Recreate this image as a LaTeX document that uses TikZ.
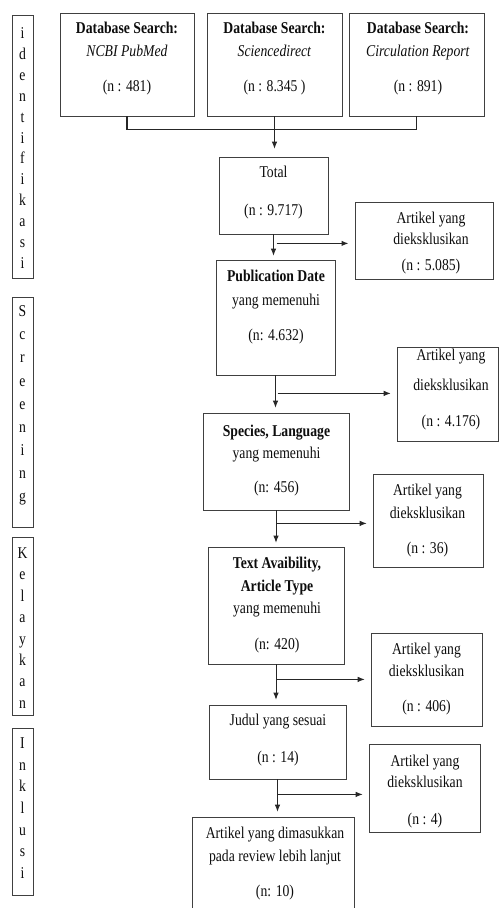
\documentclass[tikz,border=0pt]{standalone}
\usepackage{fontspec}
\setmainfont[FakeStretch=0.83]{Liberation Serif}
\usetikzlibrary{arrows.meta,calc}
\newcommand\ftx{\fontsize{16.5}{19}\selectfont}
\tikzset{
  box/.style={draw=black!75, line width=0.8pt, rectangle, inner sep=0pt},
  txt/.style={align=center, inner sep=0pt, font=\ftx, text=black!95},
  col/.style={align=center, inner sep=0pt, text=black!95},
  arr/.style={draw=black!85, line width=0.8pt, -{Latex[length=7pt,width=5.5pt]}},
  sidearr/.style={arr, shorten >=6pt},
  brk/.style={draw=black!85, line width=1.6pt}
}
\begin{document}
\begin{tikzpicture}[x=1pt,y=-1pt]
\clip (0,0) rectangle (499,908);
\fill[white] (0,0) rectangle (499,908);

% left stage boxes
\node[box, minimum width=21pt, minimum height=263pt] (L1) at (22.5,146.5) {};
\node[box, minimum width=21pt, minimum height=230pt] (L2) at (22.5,412) {};
\node[box, minimum width=21pt, minimum height=178pt] (L3) at (22.5,626) {};
\node[box, minimum width=21pt, minimum height=167pt] (L4) at (22.5,811.5) {};
\node[col, font={\fontsize{16.5}{20.9}\selectfont}] (tL1) at (22.5,148) {i\\d\\e\\n\\t\\i\\f\\i\\k\\a\\s\\i};
\node[col, font={\fontsize{16.5}{23.1}\selectfont}] (tL2) at (22.5,405.5) {S\\c\\r\\e\\e\\n\\i\\n\\g};
\node[col, font={\fontsize{16.5}{21.4}\selectfont}] (tL3) at (22.5,628) {K\\e\\l\\a\\y\\k\\a\\n};
\node[col, font={\fontsize{16.5}{21.7}\selectfont}] (tL4) at (22.5,808) {I\\n\\k\\l\\u\\s\\i};

% top boxes
\node[box, minimum width=134pt, minimum height=103pt] (A) at (127,64.5) {};
\node[box, minimum width=135pt, minimum height=103pt] (B) at (274.5,64.5) {};
\node[box, minimum width=135pt, minimum height=103pt] (C) at (416.5,64.5) {};
\node[txt] (tA) at (127,59) {\textbf{Database Search:}\\[4pt]\textit{NCBI PubMed}\\[16pt](n : 481)};
\node[txt] (tB) at (274.5,59) {\textbf{Database Search:}\\[4pt]\textit{Sciencedirect}\\[16pt](n : 8.345 )};
\node[txt] (tC) at (418,59) {\textbf{Database Search:}\\[4pt]\textit{Circulation Report}\\[16pt](n : 891)};

% main column
\node[box, minimum width=109pt, minimum height=77pt] (T) at (273.5,195.5) {};
\node[txt] (tT) at (273.5,193) {Total\\[19pt](n : 9.717)};
\node[box, minimum width=119pt, minimum height=115pt] (P) at (275.5,317.5) {};
\node[txt] (tP) at (276,307.5) {\textbf{Publication Date}\\[5pt]yang memenuhi\\[16pt](n: 4.632)};
\node[box, minimum width=146pt, minimum height=97pt] (S) at (276,461.5) {};
\node[txt] (tS) at (276.5,461) {\textbf{Species, Language}\\[3pt]yang memenuhi\\[15pt](n: 456)};
\node[box, minimum width=136pt, minimum height=117pt] (X) at (276,605.5) {};
\node[txt] (tX) at (277,605.5) {\textbf{Text Avaibility,}\\[4pt]\textbf{Article Type}\\[3pt]yang memenuhi\\[17pt](n: 420)};
\node[box, minimum width=137pt, minimum height=74pt] (J) at (277.5,742) {};
\node[txt] (tJ) at (278,740.5) {Judul yang sesuai\\[18pt](n : 14)};
\node[box, minimum width=162pt, minimum height=110pt] (F) at (273,872) {};
\node[txt] (tF) at (275,864) {Artikel yang dimasukkan\\[4pt]pada review lebih lanjut\\[16pt](n: 10)};

% exclusion boxes
\node[box, minimum width=138pt, minimum height=77pt] (E1) at (424,240.5) {};
\node[txt] (tE1) at (431,243.5) {Artikel yang\\[2pt]dieksklusikan\\[7pt](n : 5.085)};
\node[box, minimum width=101pt, minimum height=94pt] (E2) at (447.5,394) {};
\node[txt] (tE2) at (451,390) {Artikel yang\\[11pt]dieksklusikan\\[17pt](n : 4.176)};
\node[box, minimum width=110pt, minimum height=93pt] (E3) at (428,520.5) {};
\node[txt] (tE3) at (427.5,521) {Artikel yang\\[4pt]dieksklusikan\\[16pt](n : 36)};
\node[box, minimum width=111pt, minimum height=93pt] (E4) at (426.5,679.5) {};
\node[txt] (tE4) at (426.5,679.5) {Artikel yang\\[3pt]dieksklusikan\\[16pt](n : 406)};
\node[box, minimum width=111pt, minimum height=88pt] (E5) at (424.5,788) {};
\node[txt] (tE5) at (425,792) {Artikel yang\\[2pt]dieksklusikan\\[18pt](n : 4)};

% connectors
\draw[brk] (A.south) -- ++(0,13) -| (C.south);
\draw[arr, shorten >=8pt] (B.south) -- (B.south |- T.north);
\draw[arr, shorten >=4pt] (T.south) -- (T.south |- P.north);
\draw[arr, shorten >=5pt] (P.south) -- (P.south |- S.north);
\draw[arr, shorten >=4pt] (S.south) -- (S.south |- X.north);
\draw[arr, shorten >=5pt] (X.south) -- (X.south |- J.north);
\draw[arr, shorten >=5pt] (J.south) -- (J.south |- F.north);

\coordinate (j1) at ($(T.south)+(3,9)$);
\coordinate (j2) at ($(P.south)+(2,18)$);
\coordinate (j3) at ($(S.south)+(1,13)$);
\coordinate (j4) at ($(X.south)+(0,15)$);
\coordinate (j5) at ($(J.south)+(0,15)$);
\draw[sidearr, line width=1.5pt] (j1) -- (j1 -| E1.west);
\draw[sidearr] (j2) -- (j2 -| E2.west);
\draw[sidearr] (j3) -- (j3 -| E3.west);
\draw[sidearr] (j4) -- (j4 -| E4.west);
\draw[sidearr] (j5) -- (j5 -| E5.west);
\end{tikzpicture}
\end{document}
